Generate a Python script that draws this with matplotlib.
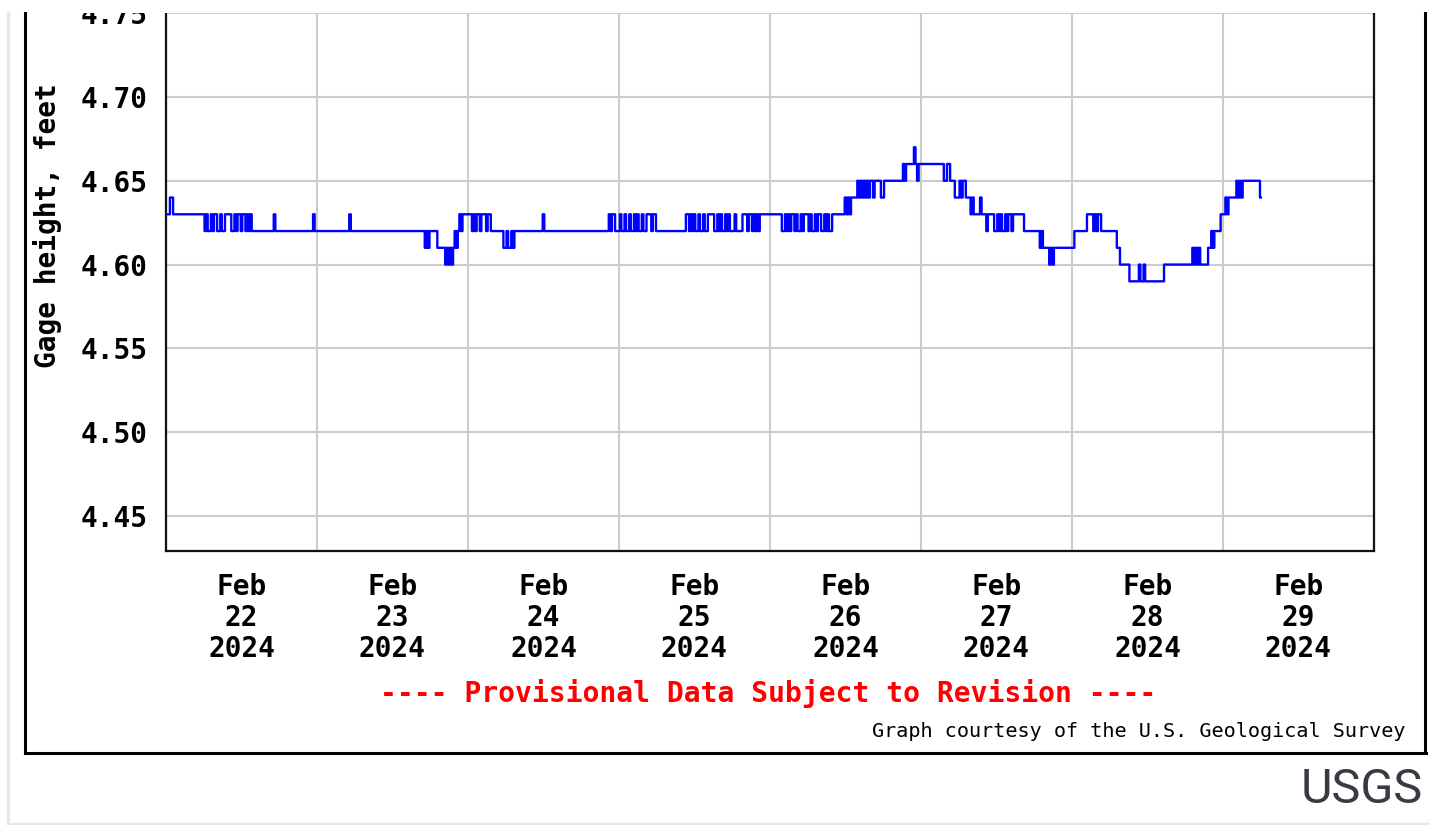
import numpy as np
import matplotlib
matplotlib.use("Agg")
import matplotlib.pyplot as plt
from matplotlib.lines import Line2D
from matplotlib.patches import Rectangle


## Gage height readings, one every 15 minutes
## stored as runs: (gage height in hundredths above 4 ft, number of readings)
feb22 = [(63, 3), (64, 2), (63, 20),
         (62, 1), (63, 1), (62, 2), (63, 1), (62, 1), (63, 2), (62, 2), (63, 1),
         (62, 2), (63, 4), (62, 2), (63, 1), (62, 1), (63, 2), (62, 1), (63, 2),
         (62, 1), (63, 1), (62, 1), (63, 1),
         (62, 14), (63, 1), (62, 24), (63, 1), (62, 1)]
feb23 = [(62, 21), (63, 1), (62, 47), (61, 1), (62, 1), (61, 1), (62, 5), (61, 5),
         (60, 1), (61, 1), (60, 1), (61, 1), (60, 1), (61, 1),
         (62, 1), (61, 1), (62, 1), (63, 1), (62, 1), (63, 3)]
feb24 = [(63, 3), (62, 1), (63, 1), (62, 1), (63, 2), (62, 1), (63, 2),
         (63, 1), (62, 1), (63, 2), (62, 8), (61, 2), (62, 1), (61, 2), (62, 1), (61, 1),
         (62, 18), (63, 1), (62, 41), (63, 1), (62, 1), (63, 2), (62, 2)]
feb25 = [(62, 1), (63, 1), (62, 2), (63, 1), (62, 2), (63, 1), (62, 2), (63, 1), (62, 1),
         (63, 1), (62, 2), (63, 1), (62, 2), (63, 3), (62, 1), (63, 2), (62, 1),
         (62, 18), (63, 2), (62, 1), (63, 1), (62, 1), (63, 1),
         (62, 2), (63, 1), (62, 2), (63, 1), (62, 2), (63, 4), (62, 2),
         (63, 1), (62, 1), (63, 1), (62, 2), (63, 1), (62, 1), (63, 1), (62, 2),
         (62, 1), (63, 1), (62, 4), (63, 3), (62, 1), (63, 2),
         (62, 1), (63, 1), (62, 1), (63, 1), (62, 1), (63, 1), (63, 5)]
feb26 = [(63, 8), (62, 2),
         (63, 1), (62, 1), (63, 1), (62, 1), (63, 2), (62, 1), (63, 1), (62, 2),
         (63, 1), (62, 1), (63, 3), (62, 1), (63, 1), (62, 2), (63, 1), (62, 1),
         (63, 2), (62, 2), (63, 1), (62, 1), (63, 1), (62, 2),
         (63, 8), (64, 1), (63, 1), (64, 1), (63, 1), (64, 1), (64, 3), (65, 1), (64, 1),
         (65, 1), (64, 1), (65, 1), (64, 1), (65, 1), (64, 1), (65, 2), (64, 1), (65, 4),
         (64, 2), (65, 12), (66, 1), (65, 1), (66, 5), (67, 1), (66, 1), (65, 1),
         (66, 1)]
feb27 = [(66, 15), (65, 2), (66, 2), (65, 3),
         (64, 3), (65, 1), (64, 1), (65, 2), (64, 1), (64, 2), (63, 1), (64, 1), (63, 1),
         (63, 3), (64, 1), (63, 3), (62, 1), (63, 4), (62, 2),
         (63, 1), (62, 1), (63, 1), (62, 2), (63, 1), (62, 1), (63, 2), (62, 1),
         (63, 7), (62, 10), (61, 1), (62, 1), (61, 4), (60, 1), (61, 1), (60, 1), (61, 11)]
feb28 = [(61, 2), (62, 8), (63, 4), (62, 1), (63, 1), (62, 1), (63, 2), (62, 1),
         (62, 9), (61, 2), (60, 5), (60, 1), (59, 6), (60, 1), (59, 2), (60, 1), (59, 12),
         (60, 18), (61, 1), (60, 1), (61, 1), (60, 1), (61, 1), (60, 5),
         (61, 2), (62, 1), (61, 1), (62, 1), (62, 3), (63, 1)]
feb29 = [(63, 2), (64, 1), (63, 1), (64, 1), (64, 4), (65, 1), (64, 1), (65, 1),
         (64, 1), (65, 11), (64, 1)]

day_labels = ["Feb\n22\n2024", "Feb\n23\n2024", "Feb\n24\n2024", "Feb\n25\n2024",
              "Feb\n26\n2024", "Feb\n27\n2024", "Feb\n28\n2024", "Feb\n29\n2024"]
ytick_values = [4.45, 4.50, 4.55, 4.60, 4.65, 4.70, 4.75]


## Expand runs into the 15 minute series
runs = feb22 + feb23 + feb24 + feb25 + feb26 + feb27 + feb28 + feb29
gage = np.concatenate([np.full(n, 4 + lvl / 100.0) for lvl, n in runs])
start = np.datetime64("2024-02-22T00:00")
times = start + np.arange(len(gage)) * np.timedelta64(15, "m")

W, H = 1430, 825
fig = plt.figure(figsize=(W / 100, H / 100), dpi=100)

def fx(x):
    return x / W

def fy(y):
    return 1 - y / H

mono = "DejaVu Sans Mono"

ax = fig.add_axes([fx(166), fy(551), fx(1374) - fx(166), fy(13) - fy(551)])
ax.plot(times, gage, color="#0000ff", lw=1.7, drawstyle="steps-mid", zorder=3)

days = start + np.arange(9) * np.timedelta64(1, "D")
noons = days[:8] + np.timedelta64(12, "h")
ax.set_xlim(days[0], days[-1])
ax.set_ylim(4.4291, 4.7501)

ax.set_xticks(days)
ax.set_xticklabels([])
ax.set_xticks(noons, minor=True)
ax.set_xticklabels(day_labels, minor=True, fontfamily=mono, fontweight="bold",
                   fontsize=20, linespacing=1.15)
ax.set_yticks(ytick_values)
ax.set_yticklabels(["%.2f" % v for v in ytick_values], fontfamily=mono,
                   fontweight="bold", fontsize=20)
ax.tick_params(axis="both", which="both", length=0)
ax.tick_params(axis="x", which="minor", pad=15.5)
ax.tick_params(axis="y", pad=13)

ax.grid(True, which="major", color="#cccccc", lw=1.5, zorder=1)
ax.set_axisbelow(True)
ax.spines["top"].set_visible(False)
for side in ["left", "right", "bottom"]:
    ax.spines[side].set_color("#111111")
    ax.spines[side].set_linewidth(1.6)

fig.text(fx(48), fy(226), "Gage height, feet", rotation=90, ha="center", va="center",
         fontfamily=mono, fontweight="bold", fontsize=20)
fig.text(fx(768), fy(694), "---- Provisional Data Subject to Revision ----",
         ha="center", va="center", color="#ff0000", fontfamily=mono,
         fontweight="bold", fontsize=20.2)
fig.text(fx(1405), fy(731.5), "Graph courtesy of the U.S. Geological Survey",
         ha="right", va="center", fontfamily=mono, fontsize=14.5)

## White band at the top where the screenshot was cut
fig.add_artist(Rectangle((0, fy(13)), 1, 1 - fy(13), transform=fig.transFigure,
                         facecolor="white", edgecolor="none", zorder=10))

## Outer black frame of the graph image
frame = dict(color="black", lw=2.2, transform=fig.transFigure, zorder=11)
fig.add_artist(Line2D([fx(25.5), fx(25.5)], [fy(13), fy(753)], **frame))
fig.add_artist(Line2D([fx(25), fx(1425.5)], [fy(753), fy(753)], **frame))
fig.add_artist(Line2D([fx(1425), fx(1425)], [fy(13), fy(753)], **frame))

## Page edges around the image
page = dict(color="#e8e8e8", lw=2.5, transform=fig.transFigure, zorder=11)
fig.add_artist(Line2D([fx(8), fx(8)], [fy(13), fy(824)], **page))
fig.add_artist(Line2D([fx(8), fx(1430)], [fy(823.5), fy(823.5)], **page))

fig.text(fx(1423), fy(803), "USGS", ha="right", va="baseline", color="#3a3a44",
         fontfamily="Roboto", fontsize=35)

fig.savefig("out.png", dpi=100)
